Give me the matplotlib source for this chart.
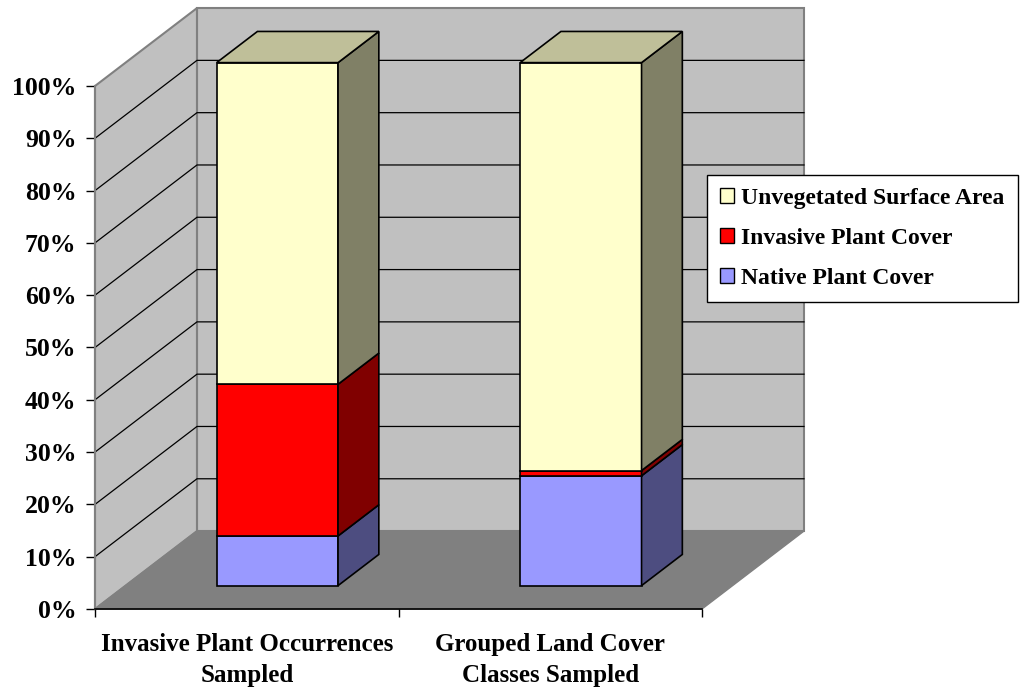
import numpy as np
import matplotlib
matplotlib.use("Agg")
import matplotlib.pyplot as plt
from matplotlib.patches import Polygon, Patch
from matplotlib.colors import to_rgb

# data (percent of sampled area)
categories = ["Invasive Plant Occurrences\nSampled", "Grouped Land Cover\nClasses Sampled"]
series_names = ["Native Plant Cover", "Invasive Plant Cover", "Unvegetated Surface Area"]
native = [9.5, 21.0]
invasive = [29.0, 1.0]
unvegetated = [61.5, 78.0]
y_ticks = [0, 10, 20, 30, 40, 50, 60, 70, 80, 90, 100]

colors = ["#9999FF", "#FF0000", "#FFFFCC"]

plt.rcParams['font.family'] = ['Liberation Serif', 'DejaVu Serif']
plt.rcParams['font.weight'] = 'bold'
FS = 18.5

# oblique depth offset in data units (category units, percent)
DX, DY = 0.336, 14.9
D0, D1 = 0.3, 0.7      # bar front / back depth
HALF_W = 0.2           # gap width 150%


def proj(x, v, d):
    return (x + d * DX, v + d * DY)


def shade(c, f):
    r, g, b = to_rgb(c)
    return (r * f, g * f, b * f)


fig = plt.figure(figsize=(10.21, 6.92), dpi=100)
ax = fig.add_axes([95 / 1021, (692 - 609) / 692, 607 / 1021, 523 / 692])
ax.set_xlim(0, 2)
ax.set_ylim(0, 100)

wall = "#C0C0C0"
edge_gray = "#808080"

# back wall
back = [proj(0, 0, 1), proj(2, 0, 1), proj(2, 100, 1), proj(0, 100, 1)]
ax.add_patch(Polygon(back, closed=True, fc=wall, ec=edge_gray, lw=1.5, clip_on=False, zorder=0.5))
# left wall
left = [proj(0, 0, 0), proj(0, 0, 1), proj(0, 100, 1), proj(0, 100, 0)]
ax.add_patch(Polygon(left, closed=True, fc=wall, ec=edge_gray, lw=1.5, clip_on=False, zorder=0.5))
# floor
floor = [proj(0, 0, 0), proj(2, 0, 0), proj(2, 0, 1), proj(0, 0, 1)]
ax.add_patch(Polygon(floor, closed=True, fc="#808080", ec=edge_gray, lw=1.0, clip_on=False, zorder=0.6))

# gridlines on walls
for v in y_ticks[1:-1]:
    x0, y0 = proj(0, v, 0)
    x1, y1 = proj(0, v, 1)
    x2, y2 = proj(2, v, 1)
    ax.plot([x0, x1, x2], [y0, y1, y2], color="black", lw=0.9, clip_on=False, zorder=0.7)

# stacked 3d bars
stack = [native, invasive, unvegetated]
for i in range(len(categories)):
    c = i + 0.5
    base = 0.0
    for k, vals in enumerate(stack):
        b, t = base, base + vals[i]
        fc = colors[k]
        front = [proj(c - HALF_W, b, D0), proj(c + HALF_W, b, D0),
                 proj(c + HALF_W, t, D0), proj(c - HALF_W, t, D0)]
        side = [proj(c + HALF_W, b, D0), proj(c + HALF_W, b, D1),
                proj(c + HALF_W, t, D1), proj(c + HALF_W, t, D0)]
        ax.add_patch(Polygon(front, closed=True, fc=fc, ec="black", lw=1.2, clip_on=False, zorder=2))
        ax.add_patch(Polygon(side, closed=True, fc=shade(fc, 0.5), ec="black", lw=1.2,
                             clip_on=False, zorder=2))
        if k == len(stack) - 1:
            top = [proj(c - HALF_W, t, D0), proj(c + HALF_W, t, D0),
                   proj(c + HALF_W, t, D1), proj(c - HALF_W, t, D1)]
            ax.add_patch(Polygon(top, closed=True, fc=shade(fc, 0.75), ec="black", lw=1.2,
                                 clip_on=False, zorder=2))
        base = t

# axes
for s in ["top", "right"]:
    ax.spines[s].set_visible(False)
ax.spines["left"].set_color(edge_gray)
ax.spines["left"].set_linewidth(1.5)
ax.spines["bottom"].set_color("black")
ax.spines["bottom"].set_linewidth(1.2)
ax.spines["left"].set_zorder(3)
ax.spines["bottom"].set_zorder(3)

ax.set_yticks(y_ticks)
ax.set_yticklabels([f"{v}%" for v in y_ticks], fontsize=FS, fontweight="bold")
ax.tick_params(axis="y", length=6.5, width=1, color="black", pad=7)

ax.set_xticks([0, 1, 2])
ax.set_xticklabels([])
ax.set_xticks([0.5, 1.5], minor=True)
ax.set_xticklabels(categories, minor=True, fontsize=18, fontweight="bold", linespacing=1.45)
ax.tick_params(axis="x", which="major", length=6, width=1, color="black")
ax.tick_params(axis="x", which="minor", length=0, pad=17)

# legend
handles = [Patch(fc=colors[k], ec="black", lw=1.0, label=series_names[k]) for k in [2, 1, 0]]
leg = ax.legend(handles=handles, loc="upper left", bbox_to_anchor=(707 / 1021, 1 - 175 / 692),
                bbox_transform=fig.transFigure, frameon=True, fancybox=False,
                edgecolor="black", framealpha=1, borderpad=0.55, labelspacing=0.8,
                handlelength=0.6, handleheight=0.6, handletextpad=0.3,
                borderaxespad=0, prop={"size": 17, "weight": "bold"})
leg.get_frame().set_linewidth(1.0)

fig.savefig("out.png", dpi=100)
